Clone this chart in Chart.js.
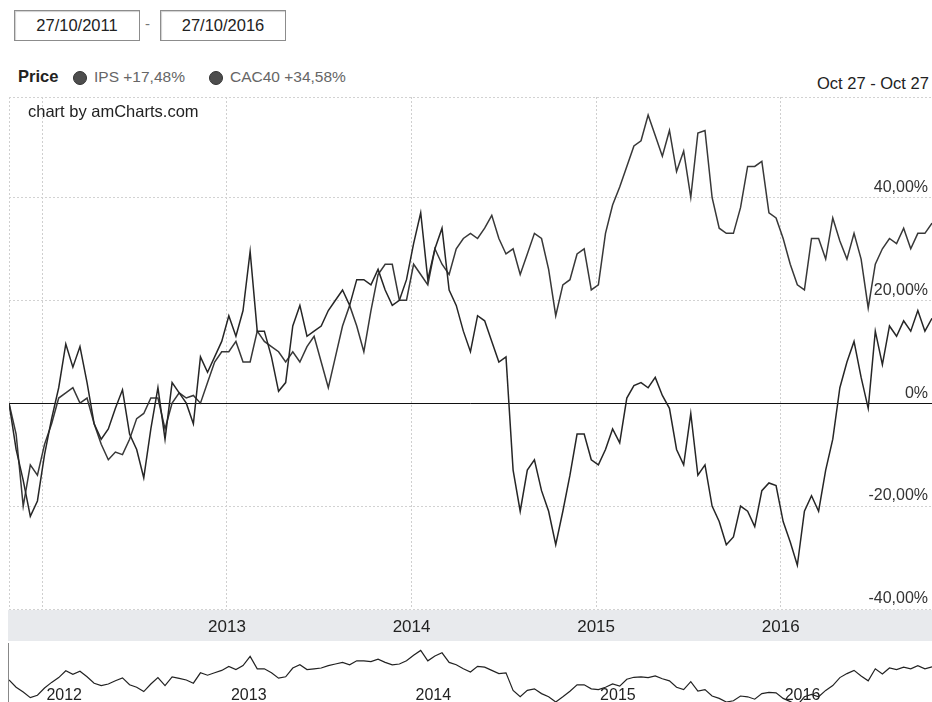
<!DOCTYPE html>
<html>
<head>
<meta charset="utf-8">
<script src="https://cdn.jsdelivr.net/npm/chart.js@4.4.0/dist/chart.umd.min.js"></script>
<style>
  body { margin: 0; background: #fff; font-family: "Liberation Sans", Arial, sans-serif; }
  #page { position: relative; width: 932px; height: 702px; overflow: hidden; }
  .datebox { position: absolute; top: 10px; width: 124px; height: 29px; border: 1px solid #8c8c8c;
    box-shadow: inset 1px 1px 1px #d0d0d0; font-size: 16.5px; line-height: 29px; text-align: center; color: #222; }
  .lbl { position: absolute; white-space: nowrap; color: #222; }
  .dot { position: absolute; width: 12px; height: 12px; border-radius: 50%; background: #4d4d4d; border: 1px solid #333; }
  canvas { position: absolute; left: 0; }
</style>
</head>
<body>
<div id="page">
  <div class="datebox" style="left:14px">27/10/2011</div>
  <div class="lbl" style="left:145px;top:15px;font-size:15px;color:#777">-</div>
  <div class="datebox" style="left:160px">27/10/2016</div>

  <div class="lbl" style="left:18px;top:67px;font-size:16.5px;font-weight:bold">Price</div>
  <div class="dot" style="left:73px;top:71px"></div>
  <div class="lbl" style="left:94px;top:68px;font-size:15.5px;color:#666">IPS +17,48%</div>
  <div class="dot" style="left:209px;top:71px"></div>
  <div class="lbl" style="left:230px;top:68px;font-size:15.5px;color:#666">CAC40 +34,58%</div>
  <div class="lbl" style="left:817px;top:74px;font-size:16.5px">Oct 27 - Oct 27</div>

  <canvas id="main" width="932" height="552" style="top:90px"></canvas>
  <canvas id="nav" width="932" height="59" style="top:643px"></canvas>
  <div class="lbl" style="left:28px;top:102px;font-size:16.5px">chart by amCharts.com</div>
</div>
<script>
var startDate = new Date(2011, 9, 27);
var endDate = new Date(2016, 9, 27);
var yAxisTicks = [40, 20, 0, -20, -40];
var yearTicks = [2012, 2013, 2014, 2015, 2016];

// fortnightly readings, % change since 27/10/2011
var ipsValues = [
  0, -9, -15, -22, -19, -10, -3, 3, 11.5, 7,
  11, 4, -4, -7, -5, -1, 2.6, -6, -9, -14.5,
  -5, 3, -7, 4, 2, 0, -4, 9, 6, 9,
  12, 17, 13, 18, 29.5, 14, 14, 9, 2.3, 4,
  15, 19, 13, 14, 15, 18, 20, 22, 19, 24,
  24, 23, 26, 22, 19, 20, 24, 31, 37, 24,
  30, 34, 22, 19, 14, 10, 17, 16, 12, 8,
  9, -13, -21, -13, -11, -17, -21, -27.5, -21, -14,
  -6, -6, -11, -12, -9, -5, -7.7, 1, 3.4, 4,
  3, 5, 1.5, -1, -9, -12, -2, -14, -12, -20,
  -23, -27.5, -26, -20, -21, -24, -17, -15.5, -16, -23,
  -27, -31.5, -21, -18, -21, -13, -7, 3, 8, 12,
  5, -1, 14, 7.5, 15, 13, 16, 14, 18, 14,
  16.5
];
var cacValues = [
  0, -6, -20, -12, -14, -8, -4, 1, 2, 3,
  0, 1, -4, -8, -11, -9.5, -10, -7, -3, -2,
  1, 1, -5, 0, 2, 1, 1.5, 0, 4, 8,
  10, 10, 12, 8, 8, 14, 12, 11, 10, 8,
  10, 8, 11, 13, 8, 3, 9, 15, 19, 15,
  10, 18, 25, 27, 27, 20, 20, 27, 25, 23,
  30, 27, 25, 30, 32, 33, 32, 34, 36.5, 32,
  29, 30, 25, 29, 33, 32, 26, 17, 23, 24,
  29, 30, 22, 23, 33, 38.5, 42, 46, 50, 51,
  56, 52, 48, 53, 45, 49, 40, 52.5, 53, 40,
  34, 33, 33, 38, 46, 46, 47, 37, 36, 32,
  27, 23, 22, 32, 32, 28, 36, 31.5, 28, 33,
  28, 18.5, 27, 30, 32, 31, 34, 30, 33, 33,
  35
];

function decimalYear(d) {
  var y = d.getFullYear();
  var a = new Date(y, 0, 1), b = new Date(y + 1, 0, 1);
  return y + (d - a) / (b - a);
}

var xMin = decimalYear(startDate);
var xMax = decimalYear(endDate);
var n = ipsValues.length;
var dates = [];
for (var i = 0; i < n; i++) {
  dates.push(decimalYear(new Date(startDate.getTime() + (endDate - startDate) * i / (n - 1))));
}

function pts(values) {
  return values.map(function (v, i) { return { x: dates[i], y: v }; });
}

var labelFont = '16px "Liberation Sans", Arial, sans-serif';

var mainDecor = {
  id: "mainDecor",
  beforeDraw: function (chart) {
    var ctx = chart.ctx, a = chart.chartArea;
    ctx.save();
    ctx.fillStyle = "#e8eaed";
    ctx.fillRect(a.left - 1, a.bottom + 1, a.right - a.left + 1, 31);
    ctx.restore();
  },
  beforeDatasetsDraw: function (chart) {
    var ctx = chart.ctx, a = chart.chartArea;
    var y0 = Math.round(chart.scales.y.getPixelForValue(0)) + 0.5;
    ctx.save();
    ctx.strokeStyle = "#111";
    ctx.lineWidth = 1;
    ctx.beginPath();
    ctx.moveTo(a.left, y0);
    ctx.lineTo(a.right, y0);
    ctx.stroke();
    ctx.restore();
  },
  afterDraw: function (chart) {
    var ctx = chart.ctx, a = chart.chartArea, ys = chart.scales.y;
    ctx.save();
    ctx.font = labelFont;
    ctx.fillStyle = "#333";
    ctx.textAlign = "right";
    ctx.textBaseline = "bottom";
    yAxisTicks.forEach(function (v) {
      var t = v === 0 ? "0%" : v.toFixed(2).replace(".", ",") + "%";
      ctx.fillText(t, a.right - 4, ys.getPixelForValue(v) - 2);
    });
    ctx.restore();
  }
};

new Chart(document.getElementById("main"), {
  type: "line",
  data: {
    datasets: [
      { label: "IPS", data: pts(ipsValues), borderColor: "#262626", borderWidth: 1.5 },
      { label: "CAC40", data: pts(cacValues), borderColor: "#383838", borderWidth: 1.5 }
    ]
  },
  options: {
    responsive: false,
    animation: false,
    elements: { point: { radius: 0, hoverRadius: 0 }, line: { tension: 0 } },
    layout: { autoPadding: false, padding: { left: 9, top: 7, right: 0, bottom: 0 } },
    plugins: { legend: { display: false }, tooltip: { enabled: false } },
    scales: {
      x: {
        type: "linear",
        min: xMin,
        max: xMax,
        afterFit: function (s) { s.height = 33; },
        afterBuildTicks: function (s) {
          s.ticks = [xMin].concat(yearTicks).map(function (v) { return { value: v }; });
        },
        ticks: {
          autoSkip: false,
          maxRotation: 0,
          padding: 8,
          color: "#222",
          font: { family: '"Liberation Sans", Arial, sans-serif', size: 17 },
          callback: function (v) {
            return (Number.isInteger(v) && v >= 2013) ? String(v) : "";
          }
        },
        grid: { color: "#cfcfcf", drawTicks: false },
        border: { display: false, dash: [2, 2] }
      },
      y: {
        position: "right",
        min: -40,
        max: 59.5,
        afterFit: function (s) { s.width = 0; },
        ticks: { stepSize: 20, display: false },
        grid: { color: "#d2d2d2", drawTicks: false },
        border: { display: false, dash: [2, 2] }
      }
    }
  },
  plugins: [mainDecor]
});

var navDecor = {
  id: "navDecor",
  beforeDraw: function (chart) {
    var ctx = chart.ctx;
    ctx.save();
    ctx.strokeStyle = "#888";
    ctx.beginPath();
    ctx.moveTo(8.5, 0);
    ctx.lineTo(8.5, chart.height);
    ctx.stroke();
    ctx.restore();
  },
  afterDraw: function (chart) {
    var ctx = chart.ctx, xs = chart.scales.x;
    ctx.save();
    ctx.font = labelFont;
    ctx.fillStyle = "#222";
    ctx.textAlign = "left";
    ctx.textBaseline = "alphabetic";
    yearTicks.forEach(function (yr) {
      ctx.fillText(String(yr), xs.getPixelForValue(yr) + 4, 57);
    });
    ctx.restore();
  }
};

new Chart(document.getElementById("nav"), {
  type: "line",
  data: {
    datasets: [
      { label: "IPS", data: pts(ipsValues), borderColor: "#222", borderWidth: 1.2 }
    ]
  },
  options: {
    responsive: false,
    animation: false,
    elements: { point: { radius: 0, hoverRadius: 0 }, line: { tension: 0 } },
    layout: { autoPadding: false, padding: { left: 9, top: 2, right: 0, bottom: 0 } },
    plugins: { legend: { display: false }, tooltip: { enabled: false } },
    scales: {
      x: { type: "linear", min: xMin, max: xMax, display: false },
      y: { min: -27.5, max: 43.75, display: false }
    }
  },
  plugins: [navDecor]
});
</script>
</body>
</html>
